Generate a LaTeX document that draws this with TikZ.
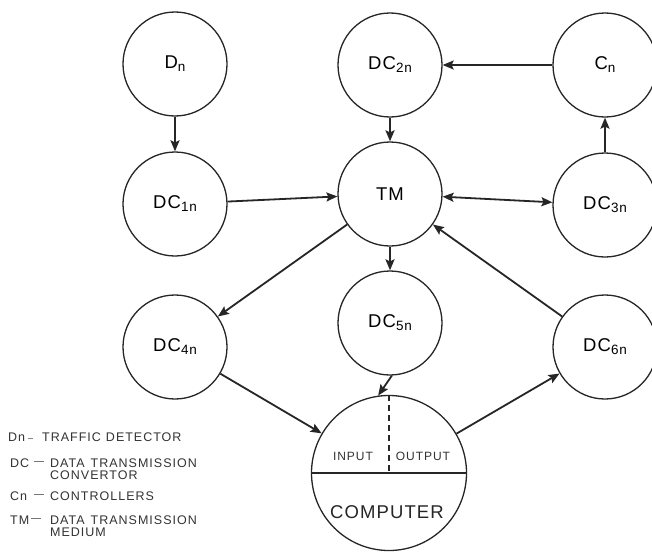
\documentclass[tikz,border=0pt]{standalone}
\usepackage{fontspec}
\setmainfont{Liberation Sans}
\newfontfamily\legfont[LetterSpace=8]{Liberation Sans}
\newfontfamily\labfont[LetterSpace=6]{Liberation Sans}
\usetikzlibrary{arrows.meta}
\newcommand\nlab[2]{{\labfont\fontsize{18.5}{18.5}\selectfont #1}\raisebox{-3pt}{\labfont\fontsize{13.5}{13.5}\selectfont #2}}
\begin{document}
\begin{tikzpicture}[x=1pt,y=-1pt,
  bub/.style={circle, draw=black!85, line width=1.3pt, minimum size=104pt, inner sep=0pt},
  arr/.style={draw=black!85, line width=1.8pt, -{Stealth[length=11pt,width=9pt,inset=2pt]}},
  darr/.style={draw=black!85, line width=1.8pt, {Stealth[length=11pt,width=9pt,inset=2pt]}-{Stealth[length=11pt,width=9pt,inset=2pt]}},
  leg/.style={anchor=west, inner sep=0pt, text=black!80, font=\legfont\fontsize{12.5}{12.5}\selectfont},
  io/.style={inner sep=0pt, text=black!80, font=\legfont\fontsize{12}{12}\selectfont}]
\useasboundingbox[fill=white] (0,0) rectangle (652,551);

% circles
\node[bub] (dn)  at (175,64)  {\nlab{D}{n}};
\node[bub] (dc2) at (390,65)  {\nlab{DC}{2n}};
\node[bub] (cn)  at (605,65)  {\nlab{C}{n}};
\node[bub] (dc1) at (175,204) {\nlab{DC}{1n}};
\node[bub] (tm)  at (390,194) {\labfont\fontsize{18.5}{18.5}\selectfont TM};
\node[bub] (dc3) at (605,205) {\nlab{DC}{3n}};
\node[bub] (dc4) at (175,347) {\nlab{DC}{4n}};
\node[bub] (dc5) at (390,323) {\nlab{DC}{5n}};
\node[bub] (dc6) at (605,347) {\nlab{DC}{6n}};

% computer
\node[circle, draw=black!85, line width=1.3pt, minimum size=155pt, inner sep=0pt] (comp) at (389,473) {};
\draw[draw=black!85, line width=1.3pt] (comp.west) -- (comp.east);
\draw[draw=black!85, line width=1.3pt, dash pattern=on 6pt off 4pt] (comp.north) -- (comp.center);
\node[io] (inp)  at (353,456) {INPUT};
\node[io] (outp) at (423,456) {OUTPUT};
\node[inner sep=0pt, text=black!85, font=\labfont\fontsize{18.5}{18.5}\selectfont] (cmpt) at (387,512) {COMPUTER};

% connectors
\draw[arr] (dn) -- (dc1);
\draw[arr] (dc2) -- (tm);
\draw[arr] (cn) -- (dc2);
\draw[arr] (dc3) -- (cn);
\draw[arr] (dc1) -- (tm);
\draw[darr] (tm) -- (dc3);
\draw[arr] (tm) -- (dc4);
\draw[arr] (tm) -- (dc5);
\draw[arr] (dc6) -- (tm);
\draw[arr] (dc4) -- (comp);
\draw[arr] (dc5.-88) -- (comp.98);
\draw[arr] (comp) -- (dc6);

% legend
\node[leg] (ldn)   at (8,437)  {Dn};
\node[leg] (ldnd)  at (28,440) {\fontsize{9}{9}\selectfont –};
\node[leg] (ldnt)  at (42,437) {TRAFFIC\hspace{5pt}DETECTOR};
\node[leg] (ldc)   at (10,463) {DC};
\node[leg] (ldcd)  at (34,463) {\fontsize{10}{10}\selectfont —};
\node[leg] (ldct)  at (50,463) {DATA\hspace{6pt}TRANSMISSION};
\node[leg] (ldct2) at (50,475) {CONVERTOR};
\node[leg] (lcn)   at (10,496) {Cn};
\node[leg] (lcnd)  at (34,496) {\fontsize{10}{10}\selectfont —};
\node[leg] (lcnt)  at (50,496) {CONTROLLERS};
\node[leg] (ltm)   at (10,520) {TM};
\node[leg] (ltmd)  at (31,520) {\fontsize{10}{10}\selectfont —};
\node[leg] (ltmt)  at (50,520) {DATA\hspace{6pt}TRANSMISSION};
\node[leg] (ltmt2) at (50,532) {MEDIUM};
\end{tikzpicture}
\end{document}
